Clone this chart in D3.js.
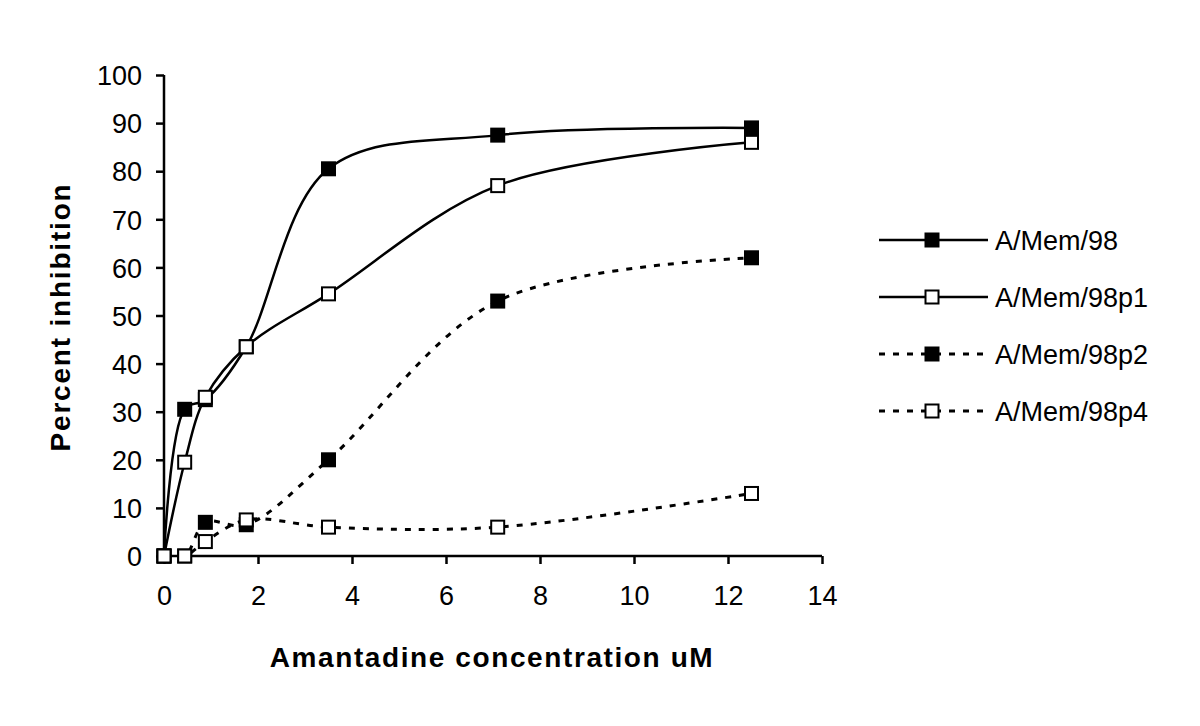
<!DOCTYPE html>
<html>
<head>
<meta charset="utf-8">
<script src="https://cdn.jsdelivr.net/npm/d3@7/dist/d3.min.js"></script>
<style>
  html, body { margin: 0; padding: 0; background: #fff; }
  svg { display: block; }
  text { font-family: "Liberation Sans", Arial, sans-serif; fill: #000; }
</style>
</head>
<body>
<svg id="chart" width="1200" height="726"></svg>
<script>
const concentrations = [0, 0.44, 0.88, 1.75, 3.5, 7.1, 12.5];
const memValues = [0, 30.5, 32.5, 43.5, 80.5, 87.5, 89];
const p1Values = [0, 19.5, 33, 43.5, 54.5, 77, 86];
const p2Values = [0, 0, 7, 6.5, 20, 53, 62];
const p4Values = [0, 0, 3, 7.5, 6, 6, 13];
const seriesNames = ["A/Mem/98", "A/Mem/98p1", "A/Mem/98p2", "A/Mem/98p4"];
const xTicks = [0, 2, 4, 6, 8, 10, 12, 14];
const yTicks = [0, 10, 20, 30, 40, 50, 60, 70, 80, 90, 100];

const series = [
  { name: seriesNames[0], values: memValues, filled: true, dashed: false },
  { name: seriesNames[1], values: p1Values, filled: false, dashed: false },
  { name: seriesNames[2], values: p2Values, filled: true, dashed: true },
  { name: seriesNames[3], values: p4Values, filled: false, dashed: true }
];

const svg = d3.select("#chart");
const x = d3.scaleLinear().domain([0, 14]).range([164, 822]);
const y = d3.scaleLinear().domain([0, 100]).range([556, 75]);

// axes
const xAxis = svg.append("g").attr("transform", "translate(0,556)")
  .call(d3.axisBottom(x).tickValues(xTicks).tickSize(8).tickPadding(22).tickFormat(d3.format("d")));
const yAxis = svg.append("g").attr("transform", "translate(164,0)")
  .call(d3.axisLeft(y).tickValues(yTicks).tickSize(8).tickPadding(14).tickFormat(d3.format("d")));
[xAxis, yAxis].forEach(a => {
  a.select(".domain").attr("stroke", "#000").attr("stroke-width", 2.5);
  a.selectAll(".tick line").attr("stroke", "#000").attr("stroke-width", 2.5);
  a.selectAll(".tick text").style("font-size", "27px").style("font-family", "'Liberation Sans', Arial, sans-serif").attr("fill", "#000");
});
yAxis.select(".domain").attr("d", "M0,75V556");
xAxis.select(".domain").attr("d", "M164,0H822");
yAxis.selectAll(".tick text").attr("dy", "0.36em");

// axis titles
svg.append("text")
  .attr("x", 492).attr("y", 667)
  .attr("text-anchor", "middle")
  .style("font-size", "28px").style("font-weight", "bold").style("letter-spacing", "1.6px")
  .text("Amantadine concentration uM");
svg.append("text")
  .attr("transform", "translate(70,317) rotate(-90)")
  .attr("text-anchor", "middle")
  .style("font-size", "28px").style("font-weight", "bold").style("letter-spacing", "1.8px")
  .text("Percent inhibition");

const line = d3.line()
  .x((d, i) => x(concentrations[i]))
  .y(d => y(d))
  .curve(d3.curveCatmullRom.alpha(0.5));

const ms = 13;
series.forEach(s => {
  const g = svg.append("g");
  g.append("path")
    .attr("d", line(s.values))
    .attr("fill", "none")
    .attr("stroke", "#000")
    .attr("stroke-width", s.dashed ? 3 : 2.5)
    .attr("stroke-dasharray", s.dashed ? "6,8" : null);
  g.selectAll("rect").data(s.values).join("rect")
    .attr("x", (d, i) => x(concentrations[i]) - ms / 2)
    .attr("y", d => y(d) - ms / 2)
    .attr("width", ms).attr("height", ms)
    .attr("fill", s.filled ? "#000" : "#fff")
    .attr("stroke", "#000").attr("stroke-width", 2);
});

// legend
const legendRows = [240, 297, 354, 411];
const lg = svg.append("g");
series.forEach((s, i) => {
  const yy = legendRows[i];
  lg.append("line")
    .attr("x1", 879).attr("x2", 988).attr("y1", yy).attr("y2", yy)
    .attr("stroke", "#000").attr("stroke-width", s.dashed ? 3 : 2.5)
    .attr("stroke-dasharray", s.dashed ? "6,8" : null);
  lg.append("rect")
    .attr("x", 932 - ms / 2).attr("y", yy - ms / 2)
    .attr("width", ms).attr("height", ms)
    .attr("fill", s.filled ? "#000" : "#fff")
    .attr("stroke", "#000").attr("stroke-width", 2);
  lg.append("text")
    .attr("x", 995).attr("y", yy).attr("dy", "0.36em")
    .style("font-size", "27px")
    .text(s.name);
});
</script>
</body>
</html>
